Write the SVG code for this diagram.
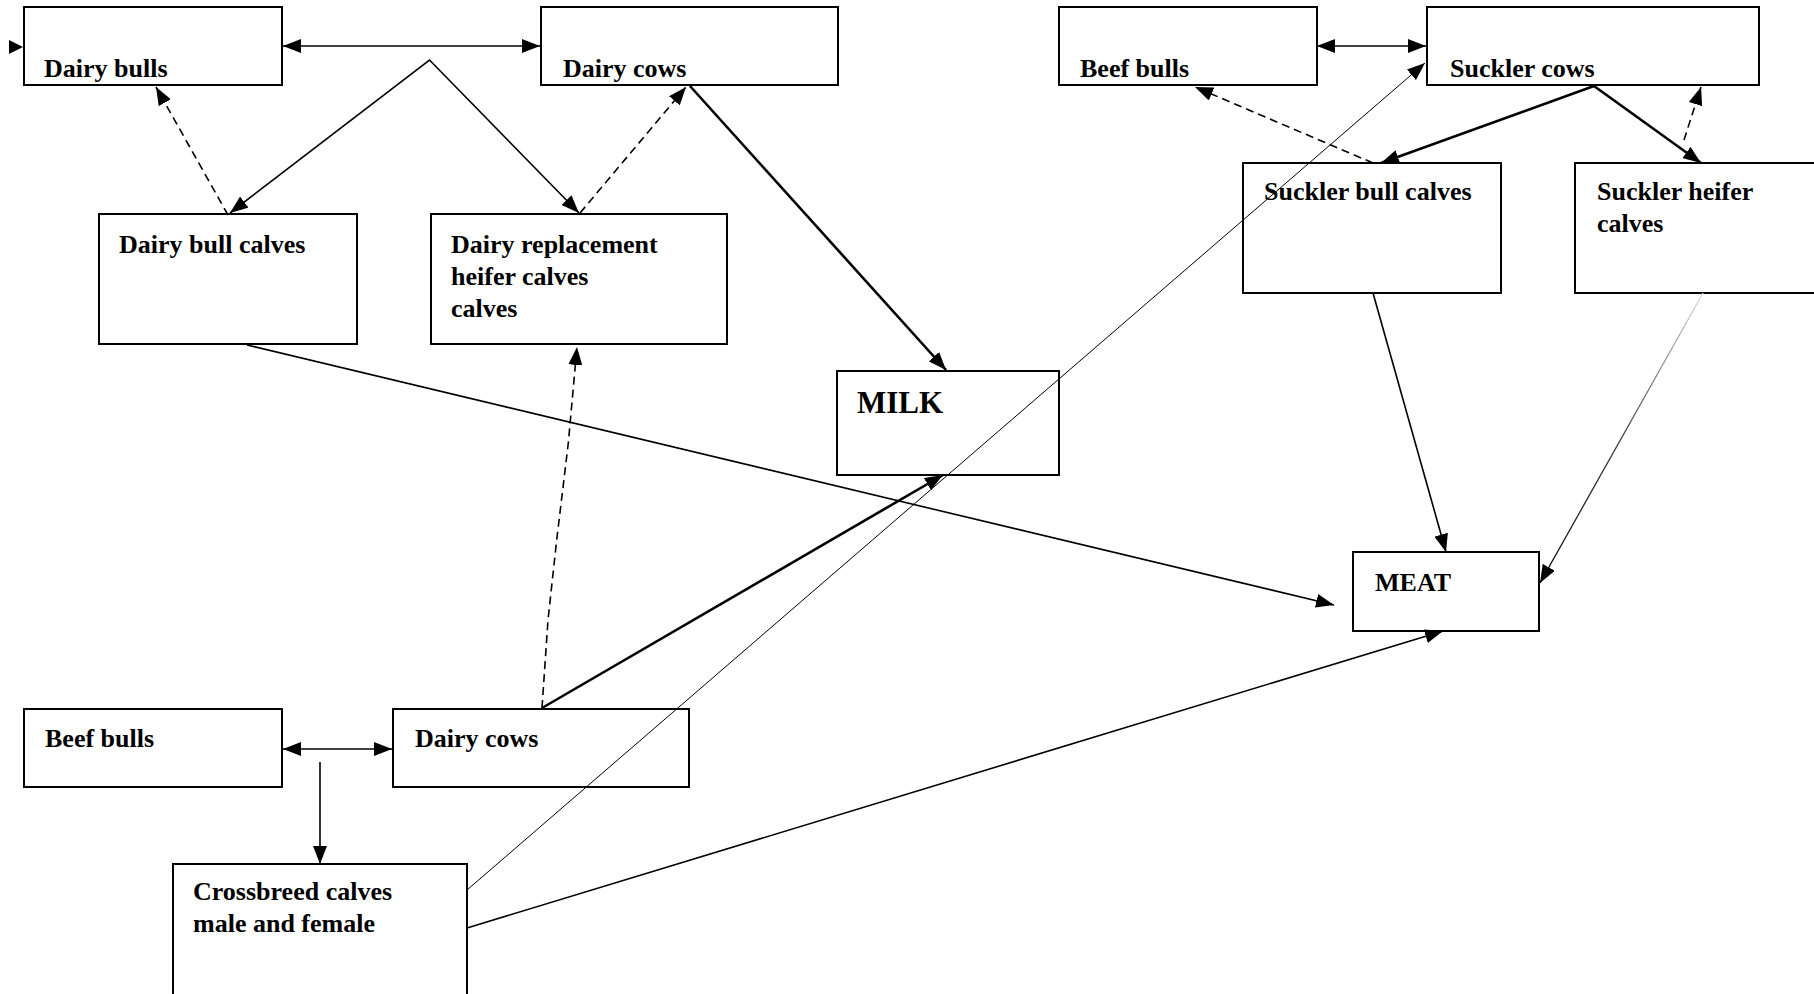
<svg xmlns="http://www.w3.org/2000/svg" width="1814" height="994" viewBox="0 0 1814 994">
<style>
.box{fill:#fff;stroke:#000;stroke-width:2}
.t{font-family:"Liberation Serif","Times New Roman",serif;font-weight:bold;font-size:26px;fill:#000}
.c{fill:none;stroke:#000}
.thin{stroke-width:1}
.med{stroke-width:1.6}
.thick{stroke-width:2.6}
.dash{stroke-dasharray:8 5;stroke-width:1.6}
</style>
<defs>
<marker id="ah" viewBox="0 0 10 10" refX="10" refY="5" markerWidth="18" markerHeight="14" markerUnits="userSpaceOnUse" orient="auto-start-reverse" preserveAspectRatio="none">
<path d="M0,0 L10,5 L0,10 z" fill="#000"/>
</marker>
<linearGradient id="fade" gradientUnits="userSpaceOnUse" x1="1703" y1="293" x2="1540" y2="583">
<stop offset="0" stop-color="#ddd"/>
<stop offset="0.5" stop-color="#444"/>
<stop offset="1" stop-color="#000"/>
</linearGradient>
</defs>
<rect width="1814" height="994" fill="#fff"/>

<g id="dairy-bulls"><rect class="box" x="24" y="7" width="258" height="78"/><text class="t" x="44" y="77">Dairy bulls</text></g>
<g id="dairy-cows-top"><rect class="box" x="541" y="7" width="297" height="78"/><text class="t" x="563" y="77">Dairy cows</text></g>
<g id="dairy-bull-calves"><rect class="box" x="99" y="214" width="258" height="130"/><text class="t" x="119" y="253">Dairy bull calves</text></g>
<g id="dairy-replacement"><rect class="box" x="431" y="214" width="296" height="130"/><text class="t" x="451" y="253">Dairy replacement</text><text class="t" x="451" y="285">heifer calves</text><text class="t" x="451" y="317">calves</text></g>
<g id="milk"><rect class="box" x="837" y="371" width="222" height="104"/><text class="t" x="857" y="413" style="font-size:31px">MILK</text></g>
<g id="beef-bulls-top"><rect class="box" x="1059" y="7" width="258" height="78"/><text class="t" x="1080" y="77">Beef bulls</text></g>
<g id="suckler-cows"><rect class="box" x="1427" y="7" width="332" height="78"/><text class="t" x="1450" y="77">Suckler cows</text></g>
<g id="suckler-bull-calves"><rect class="box" x="1243" y="163" width="258" height="130"/><text class="t" x="1264" y="200">Suckler bull calves</text></g>
<g id="suckler-heifer-calves"><rect class="box" x="1575" y="163" width="260" height="130"/><text class="t" x="1597" y="200">Suckler heifer</text><text class="t" x="1597" y="232">calves</text></g>
<g id="meat"><rect class="box" x="1353" y="552" width="186" height="79"/><text class="t" x="1375" y="591">MEAT</text></g>
<g id="beef-bulls-bottom"><rect class="box" x="24" y="709" width="258" height="78"/><text class="t" x="45" y="747">Beef bulls</text></g>
<g id="dairy-cows-bottom"><rect class="box" x="393" y="709" width="296" height="78"/><text class="t" x="415" y="747">Dairy cows</text></g>
<g id="crossbreed-calves"><rect class="box" x="173" y="864" width="294" height="140"/><text class="t" x="193" y="900">Crossbreed calves</text><text class="t" x="193" y="932">male and female</text></g>

<g id="connectors">
<line class="c med" x1="283" y1="46" x2="540" y2="46" marker-start="url(#ah)" marker-end="url(#ah)"/>
<polyline class="c med" points="230,213 429.5,60 579,213" marker-start="url(#ah)" marker-end="url(#ah)"/>
<line class="c dash" x1="228" y1="215" x2="156" y2="87" marker-end="url(#ah)"/>
<line class="c dash" x1="580" y1="213" x2="686" y2="87" marker-end="url(#ah)"/>
<line class="c thick" x1="690" y1="86" x2="946" y2="370" marker-end="url(#ah)"/>
<line class="c med" x1="247" y1="345" x2="1334" y2="605" marker-end="url(#ah)"/>
<line class="c med" x1="283" y1="749" x2="392" y2="749" marker-start="url(#ah)" marker-end="url(#ah)"/>
<line class="c med" x1="320" y1="762" x2="320" y2="864" marker-end="url(#ah)"/>
<path class="c dash" d="M542,708 L548,620 L556.7,540 L568.3,443 L577,347" marker-end="url(#ah)"/>
<line class="c thick" x1="542" y1="708" x2="943" y2="475" marker-end="url(#ah)"/>
<line class="c thin" x1="467" y1="890" x2="1425" y2="63" marker-end="url(#ah)"/>
<line class="c med" x1="467" y1="928" x2="1443" y2="631" marker-end="url(#ah)"/>
<line class="c med" x1="1317" y1="46" x2="1426" y2="46" marker-start="url(#ah)" marker-end="url(#ah)"/>
<line class="c thick" x1="1594" y1="86" x2="1381" y2="163" marker-end="url(#ah)"/>
<line class="c thick" x1="1594" y1="86" x2="1701" y2="163" marker-end="url(#ah)"/>
<line class="c dash" x1="1373" y1="163" x2="1195" y2="87" marker-end="url(#ah)"/>
<line class="c dash" x1="1684" y1="140" x2="1701" y2="87" marker-end="url(#ah)"/>
<line class="c med" x1="1373" y1="293" x2="1446" y2="552" marker-end="url(#ah)"/>
<line x1="1703" y1="293" x2="1540" y2="583" stroke="url(#fade)" stroke-width="1.3" marker-end="url(#ah)"/>
<polygon points="9,40 23,47 9,54" fill="#000"/>
</g>
</svg>
